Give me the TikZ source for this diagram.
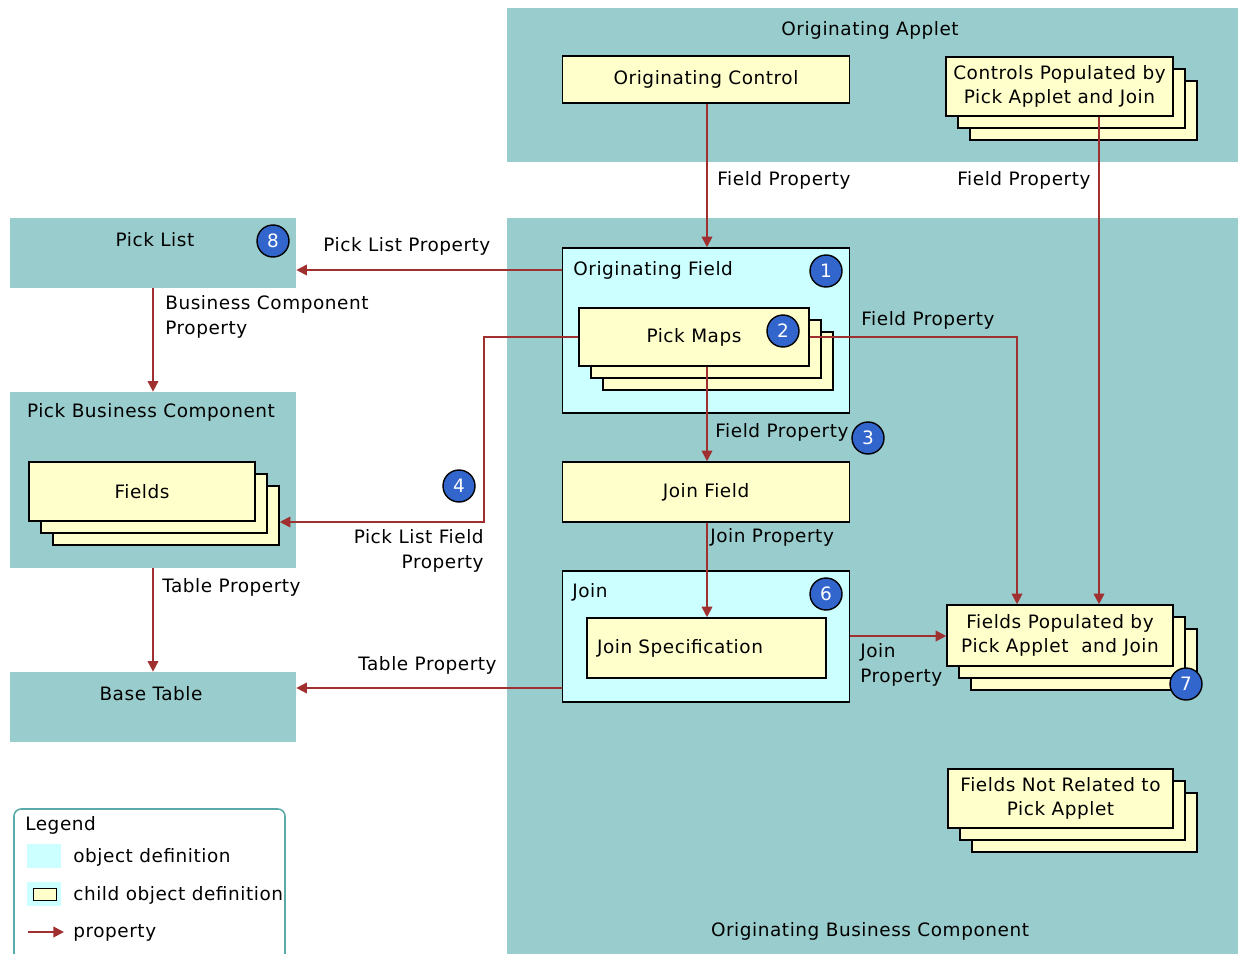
\documentclass[tikz,border=0pt]{standalone}
\usepackage{fontspec}
\setmainfont[LetterSpace=3]{DejaVu Sans}
\usetikzlibrary{arrows.meta,shadows,calc}
\definecolor{regionteal}{RGB}{153,204,204}
\definecolor{objcyan}{RGB}{204,255,255}
\definecolor{childyellow}{RGB}{255,255,204}
\definecolor{propred}{RGB}{160,48,48}
\definecolor{badgeblue}{RGB}{51,102,204}
\definecolor{legendline}{RGB}{90,170,170}
\tikzset{
  region/.style={fill=regionteal, draw=none, inner sep=0pt},
  objbox/.style={fill=objcyan, draw=black, line width=0.9pt, inner sep=0pt},
  childbox/.style={fill=childyellow, draw=black, line width=0.9pt, align=center},
  stackbox/.style={childbox, double copy shadow={shadow xshift=0.24cm, shadow yshift=-0.24cm}},
  badge/.style={circle, fill=badgeblue, draw=black, line width=0.8pt, text=white, minimum size=0.64cm, inner sep=0pt},
  txt/.style={inner sep=0pt, anchor=west, align=left},
  prop/.style={draw=propred, line width=1pt, -{Triangle[length=6pt,width=6pt]}}
}
\begin{document}
\begin{tikzpicture}[x=0.02cm, y=-0.02cm, font=\fontsize{10.5}{14}\selectfont]
  \useasboundingbox (0,0) rectangle (1240,953);
  % background regions
  \node[region, minimum width=14.62cm, minimum height=3.08cm] (applet) at (872.5,85) {};
  \node[region, minimum width=14.62cm, minimum height=14.9cm] (origbc) at (872.5,590) {};
  \node[region, minimum width=5.72cm, minimum height=1.4cm] (picklist) at (153,253) {};
  \node[region, minimum width=5.72cm, minimum height=3.52cm] (pickbc) at (153,480) {};
  \node[region, minimum width=5.72cm, minimum height=1.4cm] (basetable) at (153,707) {};
  \node[inner sep=0pt] (applettxt) at (870,30) {Originating Applet};
  \node[inner sep=0pt] (origbctxt) at (870,931) {Originating Business Component};
  \node[inner sep=0pt] (picklisttxt) at (155,240) {Pick List};
  \node[inner sep=0pt] (pickbctxt) at (151,412) {Pick Business Component};
  \node[inner sep=0pt] (basetabletxt) at (151,694) {Base Table};

  % object and child object definitions
  \node[childbox, minimum width=5.74cm, minimum height=0.94cm] (origcontrol) at (706,79.5) {Originating Control};
  \node[stackbox, minimum width=4.54cm, minimum height=1.18cm] (controls) at (1059.5,86.5) {Controls Populated by\\Pick Applet and Join};
  \node[objbox, minimum width=5.74cm, minimum height=3.3cm] (origfield) at (706,330.5) {};
  \node[txt] (origfieldtxt) at (573,270) {Originating Field};
  \node[stackbox, minimum width=4.6cm, minimum height=1.16cm] (pickmaps) at (694,337) {Pick Maps};
  \node[stackbox, minimum width=4.52cm, minimum height=1.18cm] (fields) at (142,491.5) {Fields};
  \node[childbox, minimum width=5.74cm, minimum height=1.2cm] (joinfield) at (706,492) {Join Field};
  \node[objbox, minimum width=5.74cm, minimum height=2.62cm] (join) at (706,636.5) {};
  \node[txt] (jointxt) at (572,592) {Join};
  \node[childbox, minimum width=4.78cm, minimum height=1.2cm, text width=4.38cm, inner xsep=0.2cm, align=left] (joinspec) at (706.5,648) {Join Specification};
  \node[stackbox, minimum width=4.52cm, minimum height=1.22cm] (fieldspop) at (1060,635.5) {Fields Populated by\\Pick Applet\ \ and Join};
  \node[stackbox, minimum width=4.5cm, minimum height=1.18cm] (fieldsnot) at (1060.5,798.5) {Fields Not Related to\\Pick Applet};

  % properties
  \draw[prop] ([xshift=0.02cm]origcontrol.south) -- ([xshift=0.02cm]origfield.north);
  \draw[prop] ([xshift=0.79cm]controls.south) -- ([xshift=0.78cm]fieldspop.north);
  \draw[prop] ([yshift=1.21cm]origfield.west) -- ([yshift=1.21cm]origfield.west -| picklist.east);
  \draw[prop] (picklist) -- (pickbc);
  \draw[prop] (pickmaps.west) -- ++(-94,0) |- ([xshift=0.48cm,yshift=-0.61cm]fields.east);
  \draw[prop] (pickmaps.east) -| ([xshift=-0.86cm]fieldspop.north);
  \draw[prop] ([xshift=0.02cm]joinfield.north |- pickmaps.south) -- ([xshift=0.02cm]joinfield.north);
  \draw[prop] ([xshift=0.02cm]joinfield.south) -- ([xshift=0.02cm]joinfield.south |- joinspec.north);
  \draw[prop] ([yshift=0.01cm]join.east) -- ([yshift=0.01cm]join.east -| fieldspop.west);
  \draw[prop] ([yshift=-1.03cm]join.west) -- ([yshift=-1.03cm]join.west -| basetable.east);
  \draw[prop] (pickbc) -- (basetable);

  % property labels
  \node[txt] (lblfp1) at (717,180) {Field Property};
  \node[txt] (lblfp2) at (957,180) {Field Property};
  \node[txt] (lblplp) at (323,246) {Pick List Property};
  \node[txt] (lblbcp) at (165,317) {Business Component\\Property};
  \node[txt] (lblfp3) at (861,320) {Field Property};
  \node[txt] (lblfp4) at (715,432) {Field Property};
  \node[inner sep=0pt, anchor=east, align=right] (lblplf) at (484,551) {Pick List Field\\Property};
  \node[txt] (lbljp1) at (710,537) {Join Property};
  \node[txt] (lbltp1) at (162,587) {Table Property};
  \node[txt] (lbltp2) at (358,665) {Table Property};
  \node[txt] (lbljp2) at (860,665) {Join\\Property};

  % numbered badges
  \node[badge] (b8) at (273,241) {8};
  \node[badge] (b1) at (826,271) {1};
  \node[badge] (b2) at (783,331) {2};
  \node[badge] (b3) at (868,438) {3};
  \node[badge] (b4) at (459,486) {4};
  \node[badge] (b6) at (826,594) {6};
  \node[badge] (b7) at (1186,684) {7};

  % legend
  \node[draw=legendline, line width=0.9pt, rounded corners=4pt, fill=white, minimum width=5.42cm, minimum height=3.2cm] (legendbox) at (149.5,889) {};
  \node[txt] (legendtxt) at (25,825) {Legend};
  \node[fill=objcyan, minimum width=0.68cm, minimum height=0.48cm, inner sep=0pt] (swobj) at (44,856) {};
  \node[txt] (legobj) at (73,857) {object definition};
  \node[fill=objcyan, minimum width=0.68cm, minimum height=0.48cm, inner sep=0pt] (swchild) at (44,894) {};
  \node[fill=childyellow, draw=black, line width=0.9pt, minimum width=0.46cm, minimum height=0.24cm, inner sep=0pt] (swchildin) at (45,894.5) {};
  \node[txt] (legchild) at (73,895) {child object definition};
  \coordinate (legstart) at (28,932);
  \coordinate (legtip) at (64,932);
  \draw[prop] (legstart) -- (legtip);
  \node[txt] (legprop) at (73,933) {property};
\end{tikzpicture}
\end{document}
